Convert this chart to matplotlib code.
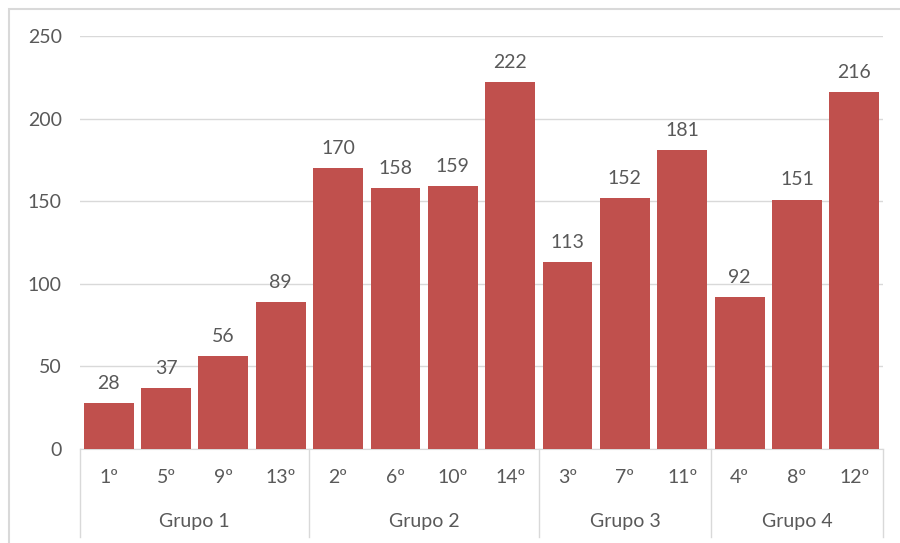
import matplotlib.pyplot as plt
from matplotlib.patches import Rectangle
from matplotlib.transforms import blended_transform_factory


GROUPS = ["Grupo 1", "Grupo 2", "Grupo 3", "Grupo 4"]
GROUP_SIZES = [4, 4, 3, 3]
CATEGORIES = ["1º", "5º", "9º", "13º", "2º", "6º", "10º", "14º",
              "3º", "7º", "11º", "4º", "8º", "12º"]
VALUES = [28, 37, 56, 89, 170, 158, 159, 222, 113, 152, 181, 92, 151, 216]

BAR_COLOR = "#C0504D"
TEXT_COLOR = "#595959"
LINE_COLOR = "#D9D9D9"

plt.rcParams["font.family"] = ["Lato", "DejaVu Sans"]


def main() -> None:
    fig = plt.figure(figsize=(9, 5.43), dpi=100)
    ax = fig.add_axes([0.0889, 0.1731, 0.8922, 0.7606])

    x = list(range(len(CATEGORIES)))
    ax.bar(x, VALUES, width=0.87, color=BAR_COLOR, zorder=3)

    for xi, val in zip(x, VALUES):
        ax.annotate(
            str(val),
            (xi, val),
            xytext=(0, 8),
            textcoords="offset points",
            ha="center",
            va="bottom",
            fontsize=14,
            color=TEXT_COLOR,
        )

    ax.set_xlim(-0.5, len(CATEGORIES) - 0.5)
    ax.set_ylim(0, 250)
    ax.set_yticks(range(0, 251, 50))
    ax.tick_params(axis="y", length=0, pad=13, labelsize=14,
                   labelcolor=TEXT_COLOR)
    ax.set_xticks([])
    ax.grid(axis="y", color=LINE_COLOR, linewidth=1, zorder=0)
    for side in ("top", "right", "left"):
        ax.spines[side].set_visible(False)
    ax.spines["bottom"].set_color(LINE_COLOR)

    trans = blended_transform_factory(ax.transData, ax.transAxes)

    for xi, label in zip(x, CATEGORIES):
        ax.text(xi, -0.07, label, transform=trans, ha="center",
                va="center", fontsize=14, color=TEXT_COLOR)

    start = 0
    bounds = [start - 0.5]
    for name, size in zip(GROUPS, GROUP_SIZES):
        center = start + (size - 1) / 2
        ax.text(center, -0.176, name, transform=trans, ha="center",
                va="center", fontsize=14, color=TEXT_COLOR)
        start += size
        bounds.append(start - 0.5)

    for b in bounds:
        ax.plot([b, b], [0, -0.213], transform=trans, color=LINE_COLOR,
                linewidth=1, clip_on=False)

    # outer chart frame (cropped at right and bottom)
    fig.patches.append(Rectangle(
        (9 / 900, -0.1), 1.1, 1 - 9 / 543 + 0.1,
        transform=fig.transFigure, fill=False,
        edgecolor=LINE_COLOR, linewidth=1.5,
    ))

    fig.savefig("out.png", dpi=100)
    plt.close(fig)


if __name__ == "__main__":
    main()
